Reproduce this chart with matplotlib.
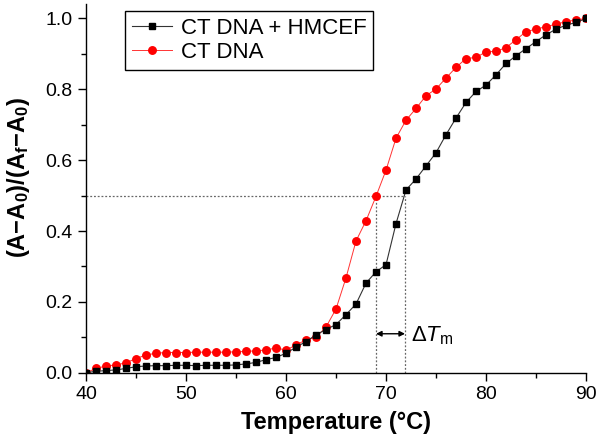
import numpy as np
import matplotlib
matplotlib.use("Agg")
import matplotlib.pyplot as plt
from matplotlib.ticker import MultipleLocator

plt.rcParams["font.family"] = ["Liberation Sans", "DejaVu Sans"]
plt.rcParams["mathtext.fontset"] = "custom"
plt.rcParams["mathtext.rm"] = "Liberation Sans"
plt.rcParams["mathtext.it"] = "Liberation Sans:italic"
plt.rcParams["mathtext.bf"] = "Liberation Sans:bold"

# temperature in °C, one reading per degree
temp = np.arange(40, 91)

# CT DNA alone (red circles)
ct_dna = [0.000, 0.012, 0.019, 0.022, 0.028, 0.040, 0.050, 0.055, 0.057, 0.057,
          0.057, 0.058, 0.058, 0.058, 0.058, 0.059, 0.060, 0.062, 0.064, 0.070,
          0.064, 0.078, 0.093, 0.100, 0.129, 0.180, 0.268, 0.372, 0.429, 0.498,
          0.572, 0.662, 0.713, 0.746, 0.782, 0.801, 0.832, 0.862, 0.887, 0.890,
          0.906, 0.907, 0.918, 0.940, 0.963, 0.970, 0.977, 0.984, 0.991, 0.996,
          1.000]

# CT DNA + HMCEF (black squares)
ct_dna_hmcef = [0.000, 0.004, 0.006, 0.008, 0.012, 0.017, 0.019, 0.020, 0.020, 0.021,
                0.021, 0.020, 0.021, 0.021, 0.021, 0.022, 0.025, 0.029, 0.037, 0.043,
                0.055, 0.072, 0.088, 0.107, 0.122, 0.136, 0.164, 0.194, 0.253, 0.285,
                0.305, 0.421, 0.516, 0.547, 0.584, 0.621, 0.672, 0.719, 0.763, 0.794,
                0.812, 0.841, 0.873, 0.895, 0.915, 0.935, 0.954, 0.970, 0.981, 0.989,
                1.000]

tm_free = 69.0
tm_bound = 71.9

fig = plt.figure(figsize=(5.98, 4.46), dpi=100)
ax = fig.add_axes([0.1438, 0.1643, 0.8362, 0.826])

ax.plot(temp, ct_dna_hmcef, color="#333333", lw=0.8, marker="s", ms=4.8,
        mfc="black", mec="black", label="CT DNA + HMCEF", zorder=3)
ax.plot(temp, ct_dna, color="#ff3333", lw=0.7, marker="o", ms=5.4,
        mfc="#ff0000", mec="#ff0000", label="CT DNA", zorder=2)

# melting point guides
dot = dict(color="#666666", lw=0.9, ls=(0, (1.5, 1.5)), zorder=1)
ax.plot([40, tm_bound], [0.5, 0.5], **dot)
ax.plot([tm_free, tm_free], [0, 0.5], **dot)
ax.plot([tm_bound, tm_bound], [0, 0.5], **dot)
ax.annotate("", xy=(tm_free, 0.11), xytext=(tm_bound, 0.11),
            arrowprops=dict(arrowstyle="<|-|>", color="black", lw=1.0,
                            mutation_scale=8, shrinkA=0, shrinkB=0))
ax.text(tm_bound + 0.6, 0.105, r"$\Delta \mathit{T}_\mathrm{m}$", fontsize=16,
        va="center", ha="left")

ax.set_xlim(40, 90)
ax.set_ylim(0, 1.04)
ax.xaxis.set_major_locator(MultipleLocator(10))
ax.xaxis.set_minor_locator(MultipleLocator(5))
ax.yaxis.set_minor_locator(MultipleLocator(0.1))
ax.set_yticks(np.arange(0, 1.01, 0.2))
ax.set_yticklabels([f"{v:.1f}" for v in np.arange(0, 1.01, 0.2)])

ax.spines["top"].set_visible(False)
ax.spines["right"].set_visible(False)
for s in ("left", "bottom"):
    ax.spines[s].set_linewidth(1.0)
ax.tick_params(which="major", direction="out", length=6, width=1.0, labelsize=14)
ax.tick_params(which="minor", direction="out", length=3.5, width=1.0)

ax.set_xlabel("Temperature (°C)", fontsize=17, fontweight="bold", labelpad=6)
ax.set_ylabel(r"$\mathbf{(A{-}A_0)/(A_f{-}A_0)}$", fontsize=17)
ax.yaxis.set_label_coords(-0.108, 0.53)

leg = ax.legend(loc="upper left", bbox_to_anchor=(0.078, 0.982), borderaxespad=0,
                fontsize=16, fancybox=False, edgecolor="black", framealpha=1,
                handlelength=1.8, handletextpad=0.4, borderpad=0.3,
                labelspacing=0.15)
leg.get_frame().set_linewidth(1.0)

fig.savefig("out.png", dpi=100)
